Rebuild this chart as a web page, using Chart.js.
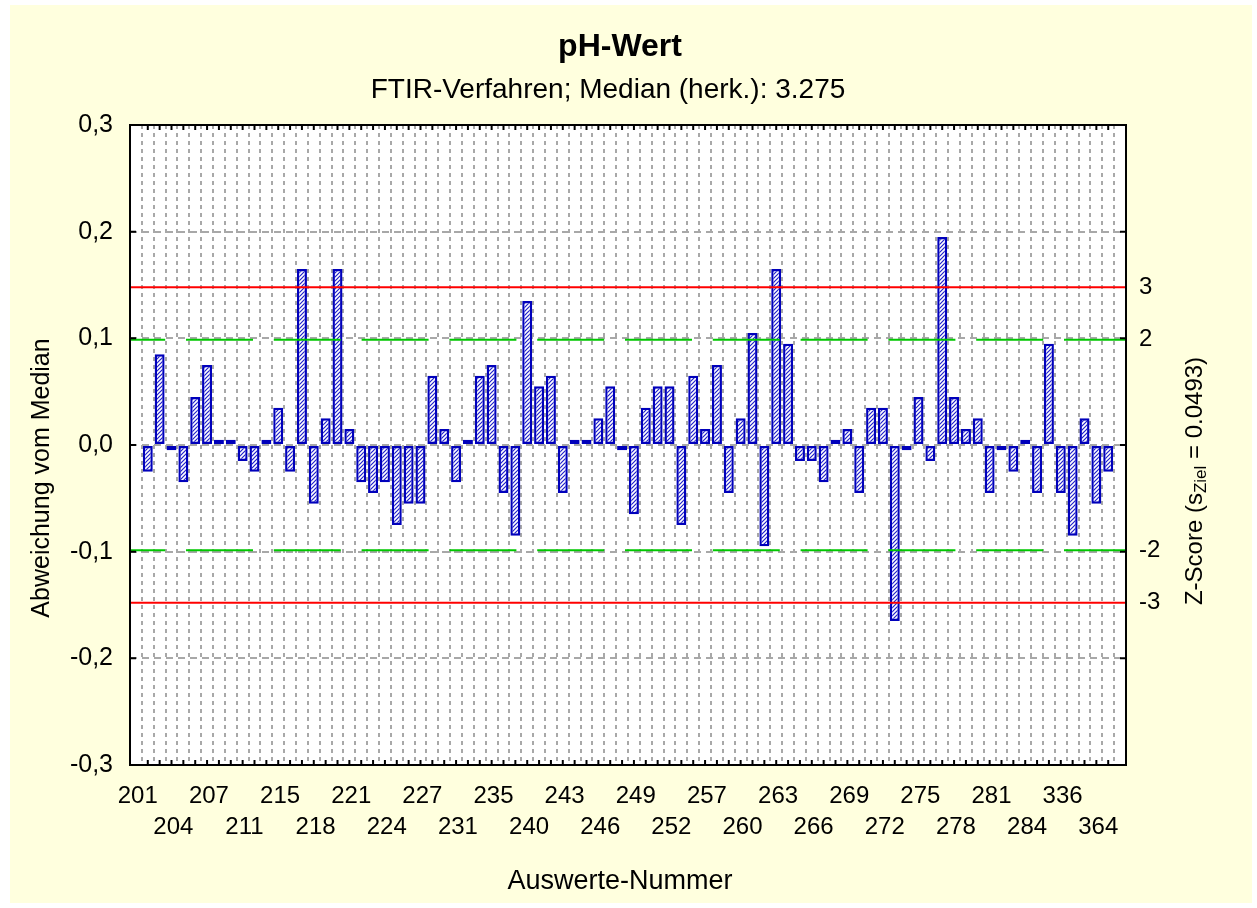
<!DOCTYPE html>
<html><head><meta charset="utf-8">
<script src="https://cdn.jsdelivr.net/npm/chart.js@4.4.1/dist/chart.umd.min.js"></script>
<style>
html,body{margin:0;padding:0;background:#ffffff;}
#panel{position:absolute;left:10px;top:5px;width:1242px;height:898px;background:#FFFFDE;}
#c{position:absolute;left:0;top:0;}
</style></head><body>
<div id="panel"></div>
<canvas id="c" width="1240" height="908"></canvas>
<script>
// ---- data ----
const chartTitle = 'pH-Wert';
const chartSubtitle = 'FTIR-Verfahren; Median (herk.): 3.275';
const xTitle = 'Auswerte-Nummer';
const yTitle = 'Abweichung vom Median';
const sZiel = 0.0493;
const categories = [201,202,203,204,205,206,207,208,210,211,212,214,215,216,217,218,219,220,221,222,223,224,225,226,227,228,230,231,232,233,235,236,238,240,241,242,243,244,245,246,247,248,249,250,251,252,253,255,257,258,259,260,261,262,263,264,265,266,267,268,269,270,271,272,273,274,275,276,277,278,279,280,281,282,283,284,285,302,336,340,352,364];
const deviations = [-0.025,0.085,-0.005,-0.035,0.045,0.075,0.005,0.005,-0.015,-0.025,0.005,0.035,-0.025,0.165,-0.055,0.025,0.165,0.015,-0.035,-0.045,-0.035,-0.075,-0.055,-0.055,0.065,0.015,-0.035,0.005,0.065,0.075,-0.045,-0.085,0.135,0.055,0.065,-0.045,0.005,0.005,0.025,0.055,-0.005,-0.065,0.035,0.055,0.055,-0.075,0.065,0.015,0.075,-0.045,0.025,0.105,-0.095,0.165,0.095,-0.015,-0.015,-0.035,0.005,0.015,-0.045,0.035,0.035,-0.165,-0.005,0.045,-0.015,0.195,0.045,0.015,0.025,-0.045,-0.005,-0.025,0.005,-0.045,0.095,-0.045,-0.085,0.025,-0.055,-0.025];
const tickLabels = ['201','204','207','211','215','218','221','224','227','231','235','240','243','246','249','252','257','260','263','266','269','272','275','278','281','284','336','364'];
const yTicks = [-0.3,-0.2,-0.1,0,0.1,0.2,0.3];
const zTicks = [-3,-2,2,3];
const zWarn = [-2,2];
const zAction = [-3,3];

const FONT = '"Liberation Sans", Arial, Helvetica, sans-serif';
Chart.defaults.font.family = FONT;
Chart.defaults.color = '#000';

function hatch(){
  const c = document.createElement('canvas'); c.width = 4; c.height = 4;
  const g = c.getContext('2d');
  g.fillStyle = '#ffffff'; g.fillRect(0,0,4,4);
  g.strokeStyle = '#2020cc'; g.lineWidth = 1.2;
  g.beginPath();
  g.moveTo(0,4); g.lineTo(4,0);
  g.moveTo(-1,1); g.lineTo(1,-1);
  g.moveTo(3,5); g.lineTo(5,3);
  g.stroke();
  return g.createPattern(c,'repeat');
}

const decor = {
  id:'decor',
  beforeDraw(chart){
    const {ctx, chartArea:a} = chart;
    ctx.save(); ctx.fillStyle = '#ffffff';
    ctx.fillRect(a.left, a.top, a.right-a.left, a.bottom-a.top);
    ctx.restore();
  },
  afterDatasetsDraw(chart){
    const {ctx, chartArea:a, scales:{x, y}} = chart;
    ctx.save();
    ctx.lineWidth = 2;
    ctx.strokeStyle = '#00c800';
    ctx.setLineDash([67,20.8]); ctx.lineDashOffset = 31.8;
    zWarn.forEach(k=>{const py = y.getPixelForValue(k*sZiel); ctx.beginPath(); ctx.moveTo(a.left,py); ctx.lineTo(a.right,py); ctx.stroke();});
    ctx.setLineDash([]);
    ctx.strokeStyle = '#ff0000';
    zAction.forEach(k=>{const py = y.getPixelForValue(k*sZiel); ctx.beginPath(); ctx.moveTo(a.left,py); ctx.lineTo(a.right,py); ctx.stroke();});
    ctx.strokeStyle = '#000';
    ctx.strokeRect(a.left, a.top, a.right-a.left, a.bottom-a.top);
    ctx.beginPath();
    categories.forEach((c,i)=>{const px = x.getPixelForValue(i);
      ctx.moveTo(px,a.top); ctx.lineTo(px,a.top+5);
      ctx.moveTo(px,a.bottom); ctx.lineTo(px,a.bottom-5);});
    yTicks.forEach(v=>{const py = y.getPixelForValue(v);
      ctx.moveTo(a.left,py); ctx.lineTo(a.left+6,py);
      ctx.moveTo(a.right,py); ctx.lineTo(a.right-6,py);});
    ctx.stroke();
    ctx.restore();
  },
  afterDraw(chart){
    const {ctx, chartArea:a} = chart;
    ctx.save();
    ctx.textBaseline = 'middle'; ctx.fillStyle = '#000'; ctx.textAlign = 'center';
    // subtitle
    ctx.font = '28px '+FONT;
    ctx.fillText(chartSubtitle, 608, 90);
    // x axis title
    ctx.font = '27px '+FONT;
    ctx.fillText(xTitle, 620, 882);
    // left axis title
    ctx.save();
    ctx.translate(42, 478); ctx.rotate(-Math.PI/2);
    ctx.font = '25px '+FONT;
    ctx.fillText(yTitle, 0, 0);
    ctx.restore();
    // right axis title with subscript
    const parts = [['Z-Score (s',24,0],['Ziel',17,6],[' = ' + sZiel + ')',24,0]];
    ctx.translate(a.right + 69, 481);
    ctx.rotate(-Math.PI/2);
    ctx.textAlign = 'left';
    let total = 0;
    parts.forEach(p=>{ctx.font = p[1]+'px '+FONT; p.w = ctx.measureText(p[0]).width; total += p.w;});
    let tx = -total/2;
    parts.forEach(p=>{ctx.font = p[1]+'px '+FONT; ctx.fillText(p[0], tx, p[2]); tx += p.w;});
    ctx.restore();
  }
};

const multiLabels = tickLabels.map((t,i)=> i%2===0 ? [t,''] : ['',t]);

new Chart(document.getElementById('c'), {
  type:'bar',
  data:{
    datasets:[{
      data: deviations.map((v,i)=>({x:i, y:v})),
      backgroundColor: hatch(),
      borderColor:'#0000bb',
      borderWidth:2.4,
      borderSkipped:false,
      barPercentage:0.84,
      categoryPercentage:1.0,
      xAxisID:'x', yAxisID:'y'
    }]
  },
  options:{
    responsive:false, animation:false,
    layout:{padding:0},
    plugins:{
      legend:{display:false}, tooltip:{enabled:false},
      title:{display:true, text:chartTitle, color:'#000', font:{size:32, weight:'bold', lineHeight:1.2}, padding:{top:27.8, bottom:58.8}},
      subtitle:{display:false}
    },
    scales:{
      x:{type:'linear', position:'bottom', min:-1, max:categories.length,
        afterBuildTicks(s){ s.ticks = [-1, ...categories.map((c,i)=>i), categories.length].map(v=>({value:v})); },
        ticks:{display:false},
        grid:{drawTicks:false, color:'#a8a8a8', lineWidth:2},
        border:{display:false, dash:[4,4]},
        afterFit(s){ s.height = 0; }
      },
      x2:{type:'category', position:'bottom', labels:multiLabels, offset:true,
        grid:{display:false, drawTicks:false}, border:{display:false},
        ticks:{autoSkip:false, maxRotation:0, minRotation:0, labelOffset:-10, padding:16, color:'#000', font:{size:24, lineHeight:1.3}},
        title:{display:false},
        afterFit(s){ s.height = 143; }
      },
      y:{type:'linear', position:'left', min:-0.3, max:0.3,
        afterBuildTicks(s){ s.ticks = yTicks.map(v=>({value:v})); },
        ticks:{padding:17, color:'#000', font:{size:25},
          callback:(v)=> (Math.abs(v)<1e-9 ? 0 : v).toFixed(1).replace('.',',')},
        grid:{drawTicks:false, color:'#a8a8a8', lineWidth:2},
        border:{display:false, dash:[7,5]},
        title:{display:false},
        afterFit(s){ s.width = 130; }
      },
      z:{type:'linear', position:'right', min:-0.3/sZiel, max:0.3/sZiel,
        afterBuildTicks(s){ s.ticks = zTicks.map(v=>({value:v})); },
        ticks:{padding:13, color:'#000', font:{size:24}},
        grid:{display:false, drawTicks:false, drawOnChartArea:false}, border:{display:false},
        afterFit(s){ s.width = 1240 - 1126; }
      }
    }
  },
  plugins:[decor]
});
</script></body></html>
